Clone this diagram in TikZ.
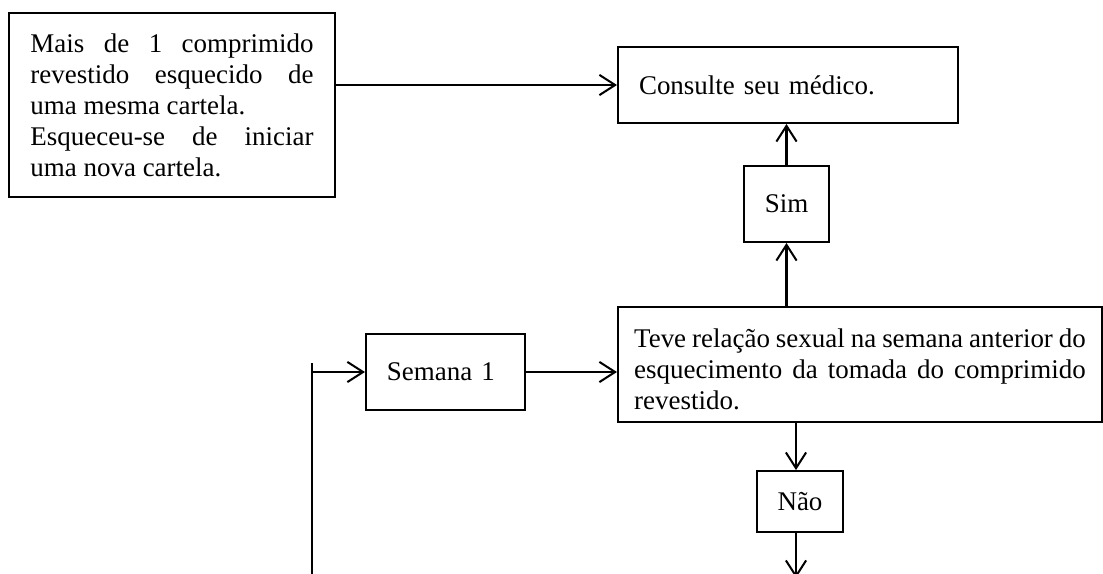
\documentclass[tikz,border=0pt]{standalone}
\usepackage{fontspec}
\setmainfont{Liberation Serif}
\usetikzlibrary{arrows.meta,positioning}

\begin{document}
\begin{tikzpicture}[->, >={Straight Barb[length=7pt,width=9pt]}, x=0.445pt, y=-0.445pt, line width=0.9pt,
        main node/.style={rectangle, draw, inner ysep=0pt, font=\fontsize{12pt}{13.8pt}\selectfont},
        text node/.style={main node, align=justify}]
        \tikzstyle{every node}=[font=\fontsize{12pt}{13.8pt}\selectfont]
        \useasboundingbox (0,0) rectangle (1103,574);

          \node[text node, text width=126pt, inner xsep=9.5pt, minimum height=81.9pt] (1) at (172,105)
            {Mais de 1 comprimido\linebreak revestido esquecido de\linebreak uma mesma cartela.\par
             Esqueceu-se de iniciar\linebreak uma nova cartela.};
          \node[main node, text width=132.6pt, inner xsep=9.35pt, minimum height=33.8pt, align=left] (2) at (788,85) {Consulte seu médico.};
          \node[main node, minimum width=37.8pt, minimum height=33.8pt] (3) at (786.5,204) {Sim};
          \node[main node, text width=52.1pt, inner xsep=9.35pt, minimum height=33.8pt, align=left] (4) at (445.5,372) {Semana 1};
          \node[text node, text width=201pt, inner xsep=7.2pt, minimum height=51.2pt] (5) at (860,364.5)
            {\rule{0pt}{13pt}Teve relação sexual na semana anterior do\linebreak esquecimento da tomada do comprimido\linebreak revestido.};
          \node[main node, minimum width=38.3pt, minimum height=27.1pt] (6) at (800,501.5) {Não};
          \coordinate (7) at (796,578);
          \coordinate (8) at (312,363);
          \coordinate (9) at (312,580);

          \path (2.west -| 1.east) edge (2.west)
                (3.north) edge (3.north |- 2.south)
                (3.south |- 5.north) edge (3.south)
                (4.east) edge (4.east -| 5.west)
                (7 |- 5.south) edge (7 |- 6.north)
                (7 |- 6.south) edge (7)
                (4.west -| 8) edge (4.west);
          \draw[-] (9) -- (8);

        \end{tikzpicture}
\end{document}
